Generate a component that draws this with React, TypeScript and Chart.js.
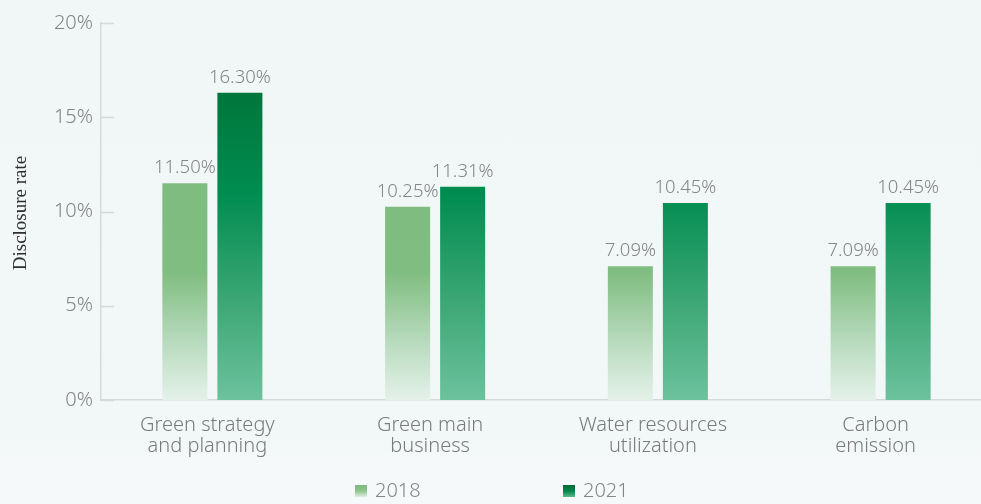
import React, { useEffect, useRef } from "react";
import { Chart, registerables } from "chart.js";

Chart.register(...registerables);

const categories: string[][] = [
  ["Green strategy", "and planning"],
  ["Green main", "business"],
  ["Water resources", "utilization"],
  ["Carbon", "emission"],
];
const seriesNames = ["2018", "2021"];
const values2018 = [11.5, 10.25, 7.09, 7.09];
const values2021 = [16.3, 11.31, 10.45, 10.45];
const yTicks = [0, 5, 10, 15, 20];

const FONT = "'Noto Sans', 'Open Sans', sans-serif";
const TEXT = "#858585";

function grad2018(ctx: CanvasRenderingContext2D, top: number, bottom: number) {
  const g = ctx.createLinearGradient(0, top, 0, bottom);
  g.addColorStop(0, "#7cba7d");
  g.addColorStop(0.66, "#80bd80");
  g.addColorStop(0.85, "#b9dbbf");
  g.addColorStop(1, "#e4f1e9");
  return g;
}
function grad2021(ctx: CanvasRenderingContext2D, top: number, bottom: number) {
  const g = ctx.createLinearGradient(0, top, 0, bottom);
  g.addColorStop(0, "#006a35");
  g.addColorStop(0.18, "#00763b");
  g.addColorStop(0.45, "#008c50");
  g.addColorStop(0.75, "#3fa877");
  g.addColorStop(1, "#6cc29d");
  return g;
}

const overlay = {
  id: "overlay",
  afterDatasetsDraw(chart: any) {
    const ctx: CanvasRenderingContext2D = chart.ctx;
    const area = chart.chartArea;
    ctx.save();
    // inward tick marks
    const y = chart.scales.y;
    ctx.strokeStyle = "#d6d9da";
    ctx.lineWidth = 1.5;
    yTicks.forEach((t) => {
      const py = Math.round(y.getPixelForValue(t)) + 0.5;
      ctx.beginPath();
      ctx.moveTo(area.left, py);
      ctx.lineTo(area.left + 13, py);
      ctx.stroke();
    });
    // data labels
    ctx.fillStyle = TEXT;
    ctx.font = `300 18.5px ${FONT}`;
    ctx.textAlign = "center";
    ctx.textBaseline = "alphabetic";
    chart.data.datasets.forEach((ds: any, di: number) => {
      const meta = chart.getDatasetMeta(di);
      meta.data.forEach((bar: any, i: number) => {
        const v = ds.data[i];
        ctx.fillText(v.toFixed(2) + "%", bar.x, bar.y - 10);
      });
    });
    // category labels
    const xs = chart.scales.x;
    ctx.fillStyle = "#7a7a7a";
    ctx.font = `300 20px ${FONT}`;
    ctx.textAlign = "center";
    ctx.textBaseline = "middle";
    categories.forEach((lines, i) => {
      const cx = xs.getPixelForValue(i) - 5;
      lines.forEach((ln, k) => {
        ctx.fillText(ln, cx, 425 + k * 21);
      });
    });
    // axis title
    ctx.save();
    ctx.translate(26, 213);
    ctx.rotate(-Math.PI / 2);
    ctx.fillStyle = "#2e2e2e";
    ctx.font = `19px 'Liberation Serif', 'DejaVu Serif', serif`;
    ctx.textAlign = "center";
    ctx.textBaseline = "alphabetic";
    ctx.fillText("Disclosure rate", 0, 0);
    ctx.restore();
    // legend
    const items = [
      { x: 355, name: seriesNames[0] },
      { x: 563, name: seriesNames[1] },
    ];
    items.forEach((it, k) => {
      const g = ctx.createLinearGradient(0, 485, 0, 497);
      if (k === 0) {
        g.addColorStop(0, "#7cba7d");
        g.addColorStop(0.5, "#8fc48f");
        g.addColorStop(1, "#e2f0e6");
      } else {
        g.addColorStop(0, "#006a35");
        g.addColorStop(0.5, "#00864a");
        g.addColorStop(1, "#5bb88e");
      }
      ctx.fillStyle = g;
      ctx.fillRect(it.x, 485, 12, 12);
      ctx.fillStyle = TEXT;
      ctx.font = `300 20px ${FONT}`;
      ctx.textAlign = "left";
      ctx.textBaseline = "middle";
      ctx.fillText(it.name, it.x + 20, 491);
    });
    ctx.restore();
  },
};

export default function App() {
  const ref = useRef<HTMLCanvasElement>(null);
  useEffect(() => {
    if (!ref.current) return;
    const chart = new Chart(ref.current, {
      type: "bar",
      data: {
        labels: categories,
        datasets: [
          {
            label: seriesNames[0],
            data: values2018,
            backgroundColor: (c: any) => {
              const a = c.chart.chartArea;
              if (!a) return "#7cba7d";
              return grad2018(c.chart.ctx, a.top, a.bottom);
            },
            categoryPercentage: 0.494,
            barPercentage: 0.818,
          },
          {
            label: seriesNames[1],
            data: values2021,
            backgroundColor: (c: any) => {
              const a = c.chart.chartArea;
              if (!a) return "#008c50";
              return grad2021(c.chart.ctx, a.top, a.bottom);
            },
            categoryPercentage: 0.494,
            barPercentage: 0.818,
          },
        ],
      },
      options: {
        animation: false,
        responsive: false,
        maintainAspectRatio: false,
        layout: { padding: { top: 23, left: 0, right: 0, bottom: 0 } },
        plugins: {
          legend: { display: false },
          tooltip: { enabled: false },
        },
        scales: {
          x: {
            grid: { display: false, drawTicks: false },
            border: { display: true, color: "#d6d9da", width: 1.5 },
            ticks: { display: false },
            afterFit: (s: any) => {
              s.height = 104;
            },
          },
          y: {
            min: 0,
            max: 20,
            afterBuildTicks: (s: any) => {
              s.ticks = yTicks.map((v) => ({ value: v }));
            },
            grid: { display: false, drawTicks: false },
            border: { display: true, color: "#d6d9da", width: 1.5 },
            ticks: {
              color: TEXT,
              font: { family: FONT, size: 20, weight: "300" as any },
              padding: 8,
              callback: (v: any) => v + "%",
            },
            afterFit: (s: any) => {
              s.width = 101;
            },
          },
        },
      },
      plugins: [overlay],
    });
    return () => chart.destroy();
  }, []);
  return (
    <div
      style={{
        position: "fixed",
        left: 0,
        top: 0,
        width: 981,
        height: 504,
        overflow: "hidden",
        background: "linear-gradient(#f1f6f7 0%, #f2f7f7 88%, #f6f9f9 92%, #f6f9f9 100%)",
      }}
    >
      <canvas ref={ref} width={992} height={504} style={{ display: "block", width: 992, height: 504 }} />
    </div>
  );
}
